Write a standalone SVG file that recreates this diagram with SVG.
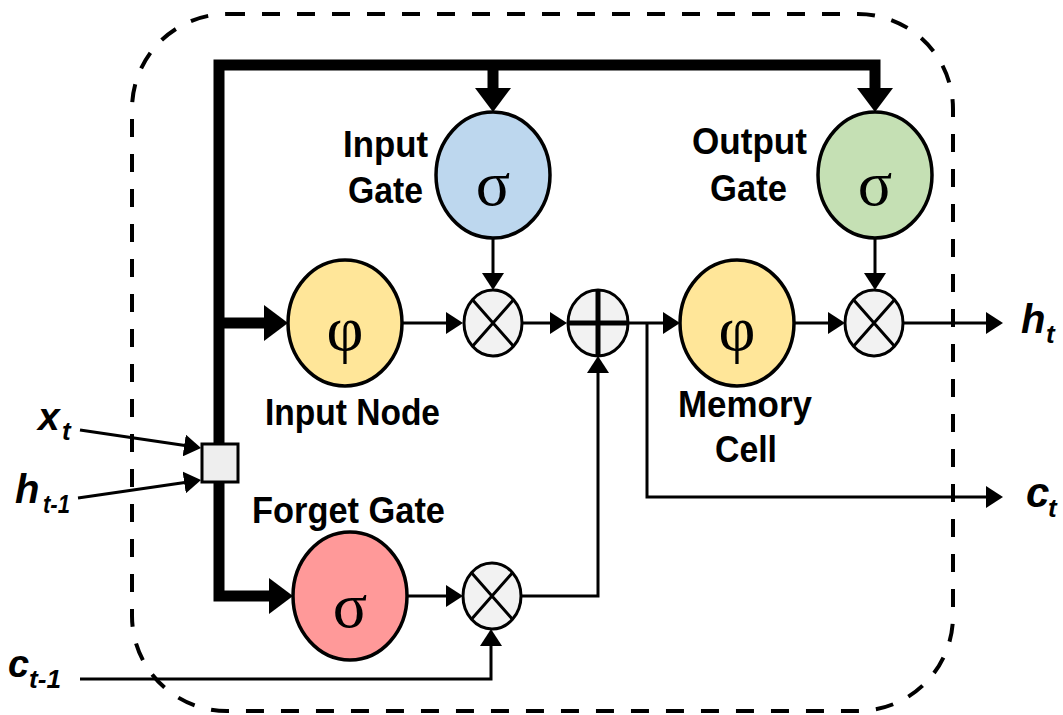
<svg xmlns="http://www.w3.org/2000/svg" width="1063" height="715" viewBox="0 0 1063 715">
<style>
.lbl{font-family:"Liberation Sans",Arial,sans-serif;font-weight:bold;font-size:37px;fill:#000}
.var{font-family:"Liberation Sans",Arial,sans-serif;font-weight:bold;font-style:italic;fill:#000}
.sym{font-family:"Liberation Serif","Times New Roman",serif;font-size:64px;fill:#000;text-anchor:middle}
.node{stroke:#000;stroke-width:3.5}
.op{fill:#f2f2f2;stroke:#000;stroke-width:3}
.thick{fill:none;stroke:#000;stroke-width:11;stroke-linejoin:miter}
.thin{fill:none;stroke:#000;stroke-width:3}
</style>
<defs>
<marker id="ah" markerUnits="userSpaceOnUse" markerWidth="17" markerHeight="22" refX="11" refY="11" orient="auto"><path d="M0,0 L17,11 L0,22 z" fill="#000"/></marker>
<marker id="AH" markerUnits="userSpaceOnUse" markerWidth="24" markerHeight="36" refX="14" refY="18" orient="auto"><path d="M0,0 L24,18 L0,36 z" fill="#000"/></marker>
</defs>
<rect x="132" y="14" width="821" height="697" rx="95" ry="95" fill="none" stroke="#000" stroke-width="4" stroke-dasharray="18 17"/>
<g id="connectors">
<path class="thick" d="M219,443 V65 H875 V102" marker-end="url(#AH)"/>
<path class="thick" d="M493,65 V102" marker-end="url(#AH)"/>
<path class="thick" d="M219,323 H278" marker-end="url(#AH)"/>
<path class="thick" d="M219,482 V596 H283" marker-end="url(#AH)"/>
<path class="thin" d="M493,238 V284" marker-end="url(#ah)"/>
<path class="thin" d="M875,238 V284" marker-end="url(#ah)"/>
<path class="thin" d="M402,323 H457" marker-end="url(#ah)"/>
<path class="thin" d="M523,323 H561" marker-end="url(#ah)"/>
<path class="thin" d="M628,323 H674" marker-end="url(#ah)"/>
<path class="thin" d="M647,323 V497 H997" marker-end="url(#ah)"/>
<path class="thin" d="M794,323 H839" marker-end="url(#ah)"/>
<path class="thin" d="M903,323 H997" marker-end="url(#ah)"/>
<path class="thin" d="M407,596 H457" marker-end="url(#ah)"/>
<path class="thin" d="M521,596 H598 V362" marker-end="url(#ah)"/>
<path class="thin" d="M80,679 H491 V635" marker-end="url(#ah)"/>
<path class="thin" d="M80,430 L195.1,447.1" marker-end="url(#ah)"/>
<path class="thin" d="M78,498 L195.1,480.9" marker-end="url(#ah)"/>
</g>
<g id="concat"><rect x="202" y="444" width="36" height="38" fill="#eeeeee" stroke="#000" stroke-width="3"/></g>
<g id="input-gate">
<ellipse class="node" cx="493" cy="175" rx="57" ry="63" fill="#bdd7ee"/>
<text class="sym" x="493" y="205">σ</text>
<text class="lbl" x="343" y="157" textLength="85" lengthAdjust="spacingAndGlyphs">Input</text>
<text class="lbl" x="348" y="203" textLength="75" lengthAdjust="spacingAndGlyphs">Gate</text>
</g>
<g id="output-gate">
<ellipse class="node" cx="875" cy="175" rx="57" ry="63" fill="#c5e0b4"/>
<text class="sym" x="875" y="205">σ</text>
<text class="lbl" x="692" y="154" textLength="115" lengthAdjust="spacingAndGlyphs">Output</text>
<text class="lbl" x="710" y="201" textLength="77" lengthAdjust="spacingAndGlyphs">Gate</text>
</g>
<g id="input-node">
<ellipse class="node" cx="345" cy="323" rx="57" ry="63" fill="#ffe699"/>
<text class="sym" x="345" y="350">φ</text>
<text class="lbl" x="265" y="425" textLength="175" lengthAdjust="spacingAndGlyphs">Input Node</text>
</g>
<g id="mul-input">
<ellipse class="op" cx="493" cy="323" rx="29" ry="33"/>
<path class="thin" d="M472.5,299.7 L513.5,346.3 M513.5,299.7 L472.5,346.3"/>
</g>
<g id="add">
<ellipse class="op" cx="598" cy="323" rx="30" ry="33"/>
<path d="M598,290 V356 M568,323 H628" stroke="#000" stroke-width="5"/>
</g>
<g id="memory-cell">
<ellipse class="node" cx="737" cy="323" rx="57" ry="63" fill="#ffe699"/>
<text class="sym" x="737" y="350">φ</text>
<text class="lbl" x="678" y="417" textLength="134" lengthAdjust="spacingAndGlyphs">Memory</text>
<text class="lbl" x="715" y="462" textLength="62" lengthAdjust="spacingAndGlyphs">Cell</text>
</g>
<g id="mul-output">
<ellipse class="op" cx="874" cy="323" rx="29" ry="33"/>
<path class="thin" d="M853.5,299.7 L894.5,346.3 M894.5,299.7 L853.5,346.3"/>
</g>
<g id="forget-gate">
<ellipse class="node" cx="350" cy="596" rx="57" ry="64" fill="#ff9999"/>
<text class="sym" x="350" y="627">σ</text>
<text class="lbl" x="252" y="523" textLength="193" lengthAdjust="spacingAndGlyphs">Forget Gate</text>
</g>
<g id="mul-forget">
<ellipse class="op" cx="492" cy="596" rx="29" ry="33"/>
<path class="thin" d="M471.5,572.7 L512.5,619.3 M512.5,572.7 L471.5,619.3"/>
</g>
<g id="x-t"><text class="var" x="38" y="430" font-size="39">x</text><text class="var" x="62" y="440" font-size="26">t</text></g>
<g id="h-prev"><text class="var" x="15" y="503" font-size="40">h</text><text class="var" x="43" y="513" font-size="26" textLength="27" lengthAdjust="spacingAndGlyphs">t-1</text></g>
<g id="c-prev"><text class="var" x="8" y="677" font-size="38">c</text><text class="var" x="29" y="688" font-size="26" textLength="32" lengthAdjust="spacingAndGlyphs">t-1</text></g>
<g id="h-t"><text class="var" x="1021" y="333" font-size="40">h</text><text class="var" x="1046" y="343" font-size="26">t</text></g>
<g id="c-t"><text class="var" x="1026" y="507" font-size="42">c</text><text class="var" x="1048" y="517" font-size="26">t</text></g>
</svg>
